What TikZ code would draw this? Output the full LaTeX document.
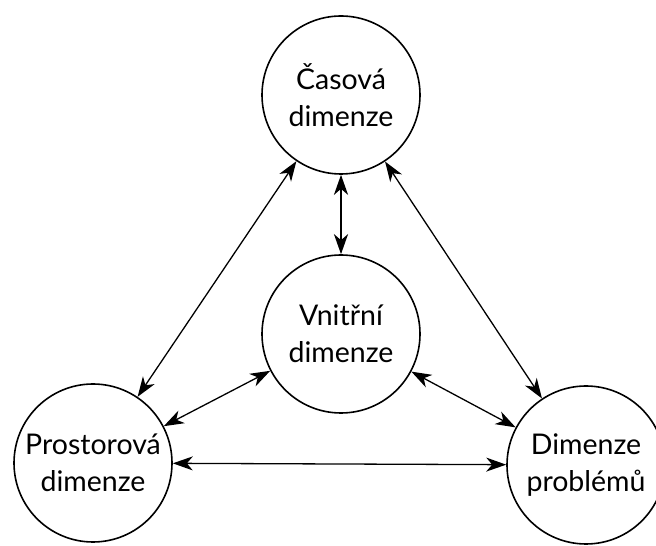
\documentclass[tikz,border=0pt]{standalone}
\usepackage{fontspec}
\setmainfont{Lato}
\usetikzlibrary{arrows.meta}
\begin{document}
\begin{tikzpicture}[x=1pt,y=1pt,
        dim/.style={draw, circle, line width=1.6pt, minimum size=158pt, inner sep=0pt,
            align=center, font=\fontsize{28.5}{37}\selectfont},
        link/.style={{Stealth[length=20pt,width=14pt,inset=6pt]}-{Stealth[length=20pt,width=14pt,inset=6pt]},
            line width=1.3pt}]
        \useasboundingbox (0,0) rectangle (656,546);

        \node[dim] (casova) at (341,451) {Časová\\dimenze};
        \node[dim] (vnitrni) at (341,212) {Vnitřní\\dimenze};
        \node[dim] (prostor) at (93,83) {Prostorová\\dimenze};
        \node[dim] (problem) at (586,81) {Dimenze\\problémů};

        \draw[link, line width=2.6pt] (casova) -- (vnitrni);
        \draw[link] (casova) -- (prostor);
        \draw[link] (casova) -- (problem);
        \draw[link] (vnitrni) -- (prostor);
        \draw[link] (vnitrni) -- (problem);
        \draw[link] (prostor) -- (problem);
    \end{tikzpicture}
\end{document}
